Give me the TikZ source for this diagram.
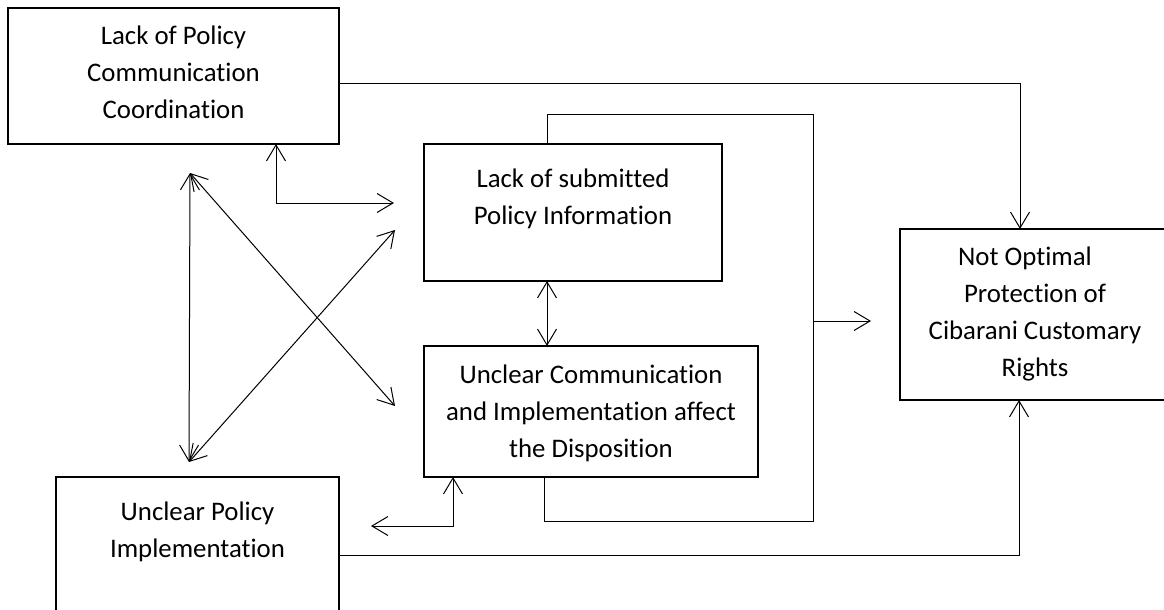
\documentclass[tikz,border=0pt]{standalone}
\usepackage{fontspec}
\setmainfont{Carlito}[Ligatures={NoCommon,NoContextual,NoRare}]
\usetikzlibrary{arrows.meta}
\begin{document}
\begin{tikzpicture}[x=1pt,y=-1pt,
  box/.style={draw,line width=2.4pt,anchor=north west,inner sep=0pt,outer sep=0pt},
  txt/.style={anchor=base,inner sep=0pt,font=\fontsize{26.8}{37}\selectfont},
  conn/.style={line width=1pt},
  tip/.style={-{Straight Barb[length=16pt,width=19pt,line width=1pt]}},
  dbl/.style={{Straight Barb[length=16pt,width=19pt,line width=1pt]}-{Straight Barb[length=16pt,width=19pt,line width=1pt]}}]
\useasboundingbox (0,0) rectangle (1164,610);
\clip (0,0) rectangle (1164,610);
% boxes
\node[box,minimum width=331pt,minimum height=136pt] (A) at (8,8) {};
\node[box,minimum width=298pt,minimum height=137pt] (B) at (424,144) {};
\node[box,minimum width=334pt,minimum height=131pt] (C) at (424,346) {};
\node[box,minimum width=283pt,minimum height=170pt] (D) at (56,477) {};
\node[box,minimum width=290pt,minimum height=171pt] (E) at (900,229) {};
% texts
\node[txt] (tA) at (173.5,45) {\begin{tabular}[t]{@{}c@{}}Lack of Policy\\Communication\\Coordination\end{tabular}};
\node[txt] (tB) at (573,187) {\begin{tabular}[t]{@{}c@{}}Lack of submitted\\Policy Information\end{tabular}};
\node[txt] (tC) at (591,383) {\begin{tabular}[t]{@{}c@{}}Unclear Communication\\and Implementation affect\\the Disposition\end{tabular}};
\node[txt] (tD) at (197.5,520) {\begin{tabular}[t]{@{}c@{}}Unclear Policy\\Implementation\end{tabular}};
\node[txt] (tE) at (1035,265) {\begin{tabular}[t]{@{}c@{}}Not Optimal\hspace*{20pt}\\Protection of\\Cibarani Customary\\Rights\end{tabular}};
% coordinates
\coordinate (aE) at (1020,83);
\coordinate (bTop) at (547,114);
\coordinate (bR) at (813,114);
\coordinate (bBot) at (813,521);
\coordinate (cB) at (544,521);
\coordinate (jn) at (813,321);
\coordinate (jnEnd) at (871,321);
\coordinate (dE) at (1019,555);
\coordinate (ab) at (276,203);
\coordinate (abEnd) at (394,203);
\coordinate (cd) at (453,526);
\coordinate (cdEnd) at (371,526);
\coordinate (vt) at (190,173);
\coordinate (vb) at (189,462);
\coordinate (xA) at (395,406);
\coordinate (xB) at (395,230);
% connectors
\draw[conn,tip] (A.east |- aE) -- (aE) -- (aE |- E.north);
\draw[conn] (B.north -| bTop) -- (bTop) -- (bR) -- (bBot) -- (cB) -- (cB |- C.south);
\draw[conn,tip] (jn) -- (jnEnd);
\draw[conn,tip] (D.east |- dE) -- (dE) -- (dE |- E.south);
\draw[conn,dbl] (A.south -| ab) -- (ab) -- (abEnd);
\draw[conn,dbl] (B.south -| bTop) -- (C.north -| bTop);
\draw[conn,dbl] (C.south -| cd) -- (cd) -- (cdEnd);
\draw[conn,dbl] (vt) -- (vb);
\draw[conn,dbl] (vt) -- (xA);
\draw[conn,dbl] (vb) -- (xB);
\end{tikzpicture}
\end{document}
